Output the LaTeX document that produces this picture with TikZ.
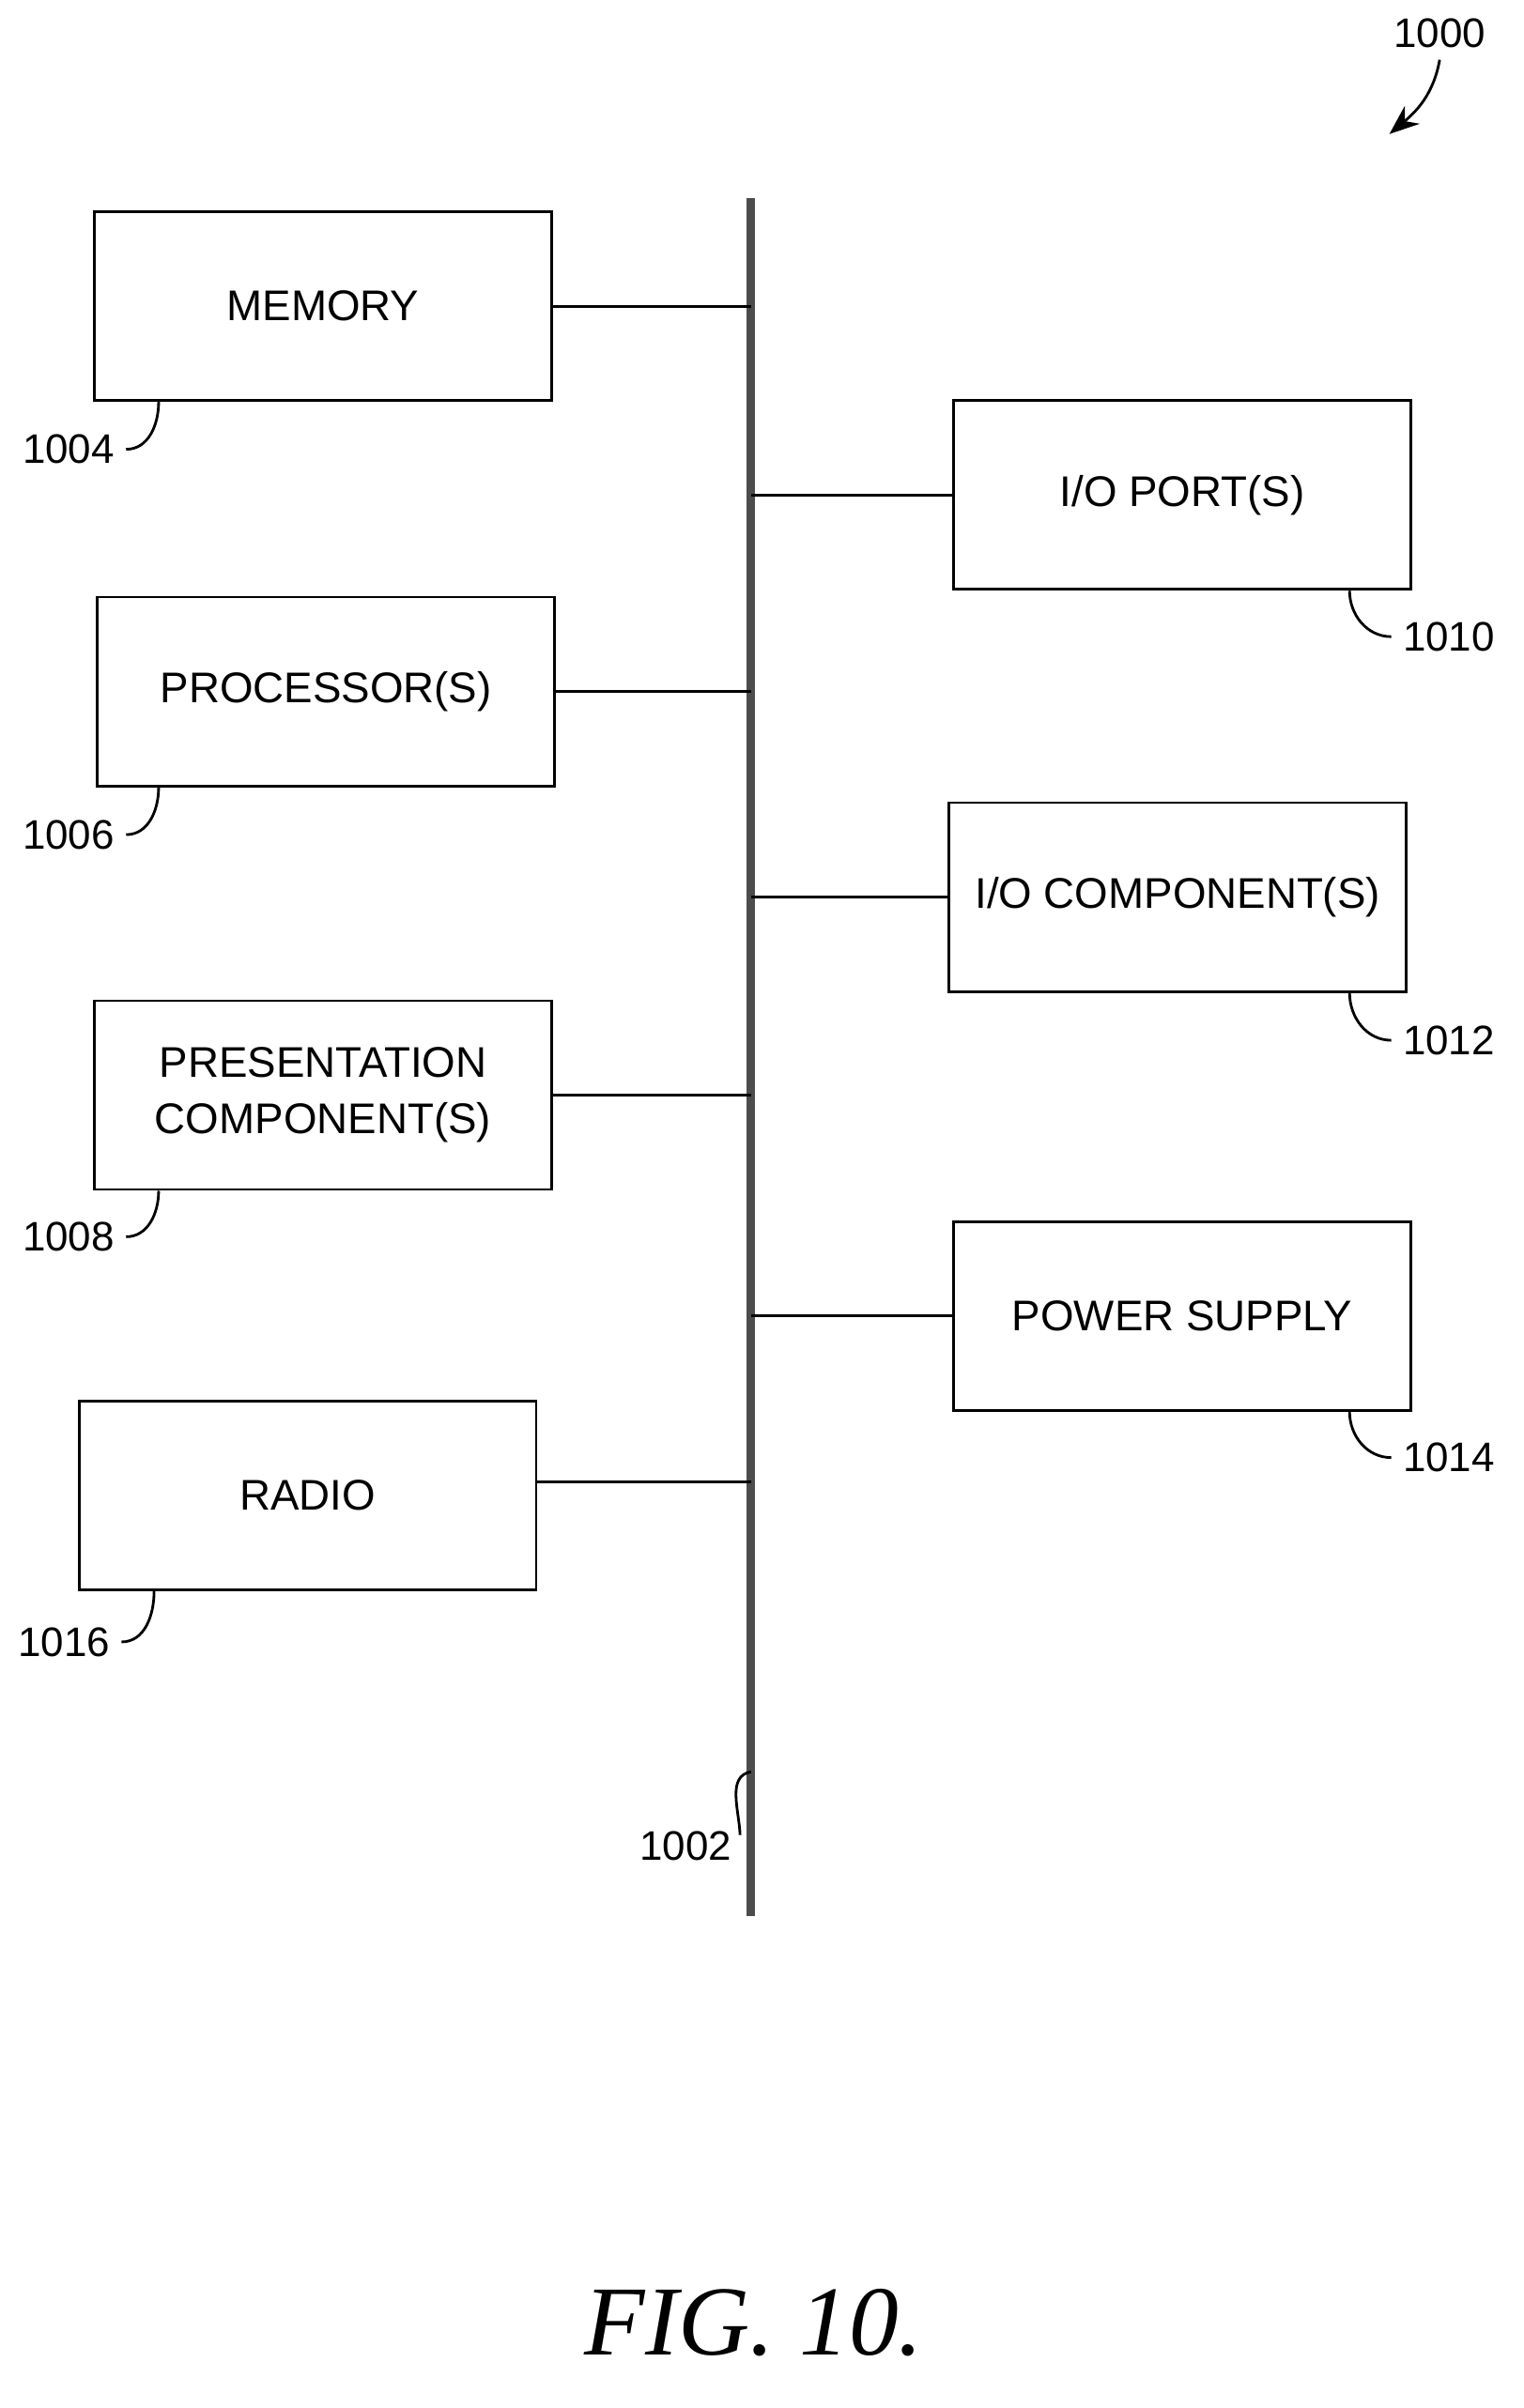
\documentclass[tikz,border=0pt]{standalone}
\usepackage{fontspec}
\setmainfont{Liberation Sans}
\newfontfamily\figfont{Liberation Serif}
\usetikzlibrary{calc,arrows.meta}
\tikzset{
  block/.style={draw,thick,minimum width=4.866cm,minimum height=2.011cm,align=center,
    font=\fontsize{13}{17}\selectfont},
  reflabel/.style={font=\fontsize{12.5}{14}\selectfont},
  leader/.style={thick},
  bus/.style={line width=2.6pt,gray!60!black}
}
\begin{document}
\begin{tikzpicture}[x=0.01622cm,y=-0.01622cm]
    \useasboundingbox (0,0) rectangle (1000,1581); % page
    \node[block] (mem) at (212,201) {MEMORY}; % memory
    \node[block] (proc) at (214,454) {PROCESSOR(S)}; % processors
    \node[block] (pres) at (212,719) {PRESENTATION\\COMPONENT(S)}; % presentation
    \node[block] (radio) at (202,982) {RADIO}; % radio
    \node[block] (port) at (776,325) {I/O PORT(S)}; % io ports
    \node[block] (comp) at (773,589) {I/O COMPONENT(S)}; % io components
    \node[block] (power) at (776,864) {POWER SUPPLY}; % power supply
    \coordinate (bustop) at (493,130); % bus top
    \coordinate (busbot) at (493,1258); % bus bottom
    \draw[bus] (bustop) -- (busbot); % bus 1002
    \draw[thick] (mem.east) -- (mem.east -| bustop); % Wiring
    \draw[thick] (proc.east) -- (proc.east -| bustop); % Wiring
    \draw[thick] (pres.east) -- (pres.east -| bustop); % Wiring
    \draw[thick] ($(radio.east)+(0,-9)$) coordinate (r) -- (r -| bustop); % Wiring
    \draw[thick] (port.west) -- (port.west -| bustop); % Wiring
    \draw[thick] (comp.west) -- (comp.west -| bustop); % Wiring
    \draw[thick] (power.west) -- (power.west -| bustop); % Wiring
    \node[reflabel] (l1004) at (45,295) {1004}; % label
    \node[reflabel] (l1006) at (45,548) {1006}; % label
    \node[reflabel] (l1008) at (45,812) {1008}; % label
    \node[reflabel] (l1016) at (42,1078) {1016}; % label
    \node[reflabel] (l1010) at (951,418) {1010}; % label
    \node[reflabel] (l1012) at (951,683) {1012}; % label
    \node[reflabel] (l1014) at (951,957) {1014}; % label
    \node[reflabel] (l1002) at (450,1212) {1002}; % label
    \node[reflabel] (l1000) at (945,22) {1000}; % label
    \draw[leader] (l1004.east) to[out=0,in=-90] ($(mem.south west)+(43,0)$); % leader
    \draw[leader] (l1006.east) to[out=0,in=-90] ($(proc.south west)+(41,0)$); % leader
    \draw[leader] (l1008.east) to[out=0,in=-90] ($(pres.south west)+(43,0)$); % leader
    \draw[leader] (l1016.east) to[out=0,in=-90] ($(radio.south west)+(50,0)$); % leader
    \draw[leader] (l1010.west) to[out=180,in=-90] ($(port.south east)+(-41,0)$); % leader
    \draw[leader] (l1012.west) to[out=180,in=-90] ($(comp.south east)+(-38,0)$); % leader
    \draw[leader] (l1014.west) to[out=180,in=-90] ($(power.south east)+(-41,0)$); % leader
    \draw[leader] ($(l1002.north east)+(-2,10)$) to[out=92,in=190] ($(bustop)!0.916!(busbot)$); % leader
    \draw[leader,-{Stealth[length=9pt,width=7pt]}] (l1000.south) to[out=-100,in=40] (912,88); % arrow 1000
    \node[font=\figfont\itshape\fontsize{30}{34}\selectfont] (fig) at (495,1525) {FIG. 10.}; % caption
\end{tikzpicture}
\end{document}
